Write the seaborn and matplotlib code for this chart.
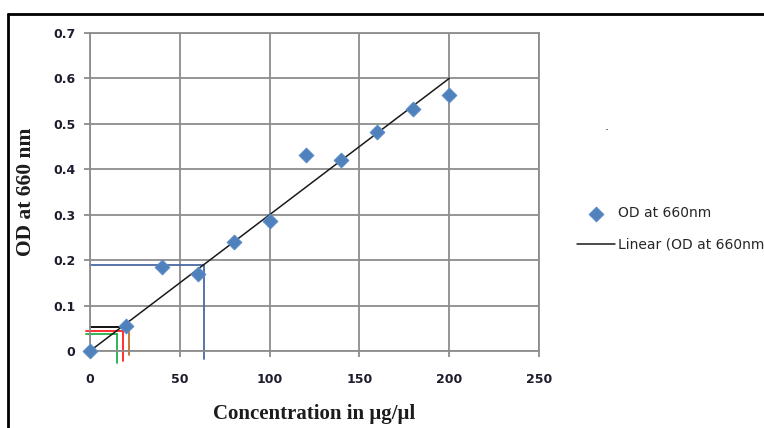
import matplotlib
matplotlib.use('Agg')
import matplotlib.pyplot as plt
import seaborn as sns
import numpy as np
from matplotlib.lines import Line2D

# data
conc = [0, 20, 40, 60, 80, 100, 120, 140, 160, 180, 200]
od = [0.0, 0.055, 0.185, 0.17, 0.24, 0.287, 0.432, 0.42, 0.483, 0.533, 0.563]

# linear trendline end points
trend_x = [0, 200]
trend_y = [0.0, 0.6]

# read-off guide lines (horizontal level -> vertical drop)
guide_start = [0, 0, -2, -2]
guide_x = [63.5, 21.5, 18.5, 15]
guide_y = [0.19, 0.053, 0.045, 0.037]
guide_bottom = [-0.018, -0.008, -0.022, -0.027]
guide_colors = ['#4a6aa5', '#000000', '#ff2020', '#22b04a']
guide_vcolors = ['#4a6aa5', '#c0702a', '#ff2020', '#22b04a']

x_ticks = [0, 50, 100, 150, 200, 250]
y_ticks = [0, 0.1, 0.2, 0.3, 0.4, 0.5, 0.6, 0.7]
y_ticklabels = ['0', '0.1', '0.2', '0.3', '0.4', '0.5', '0.6', '0.7']

# legend text as it appears in the picture (the trendline label is cut at the edge)
point_label = 'OD at 660nm'
trend_label = 'Linear (OD at 660nm'

sns.set_style('white')
plt.rcParams['font.family'] = ['DejaVu Sans']

fig = plt.figure(figsize=(7.64, 4.28), dpi=100)
ax = fig.add_axes([90 / 764, 1 - 351 / 428, 449 / 764, 318 / 428])

grid_c = '#8c8c8c'
ax.grid(True, color=grid_c, linewidth=1.3)
ax.set_axisbelow(True)
for s in ax.spines.values():
    s.set_color(grid_c)
    s.set_linewidth(1.3)

# trendline
sns.lineplot(x=trend_x, y=trend_y, ax=ax, color='#1a1a1a', linewidth=1.1,
             label=trend_label, zorder=3)

# guide lines
for x0, xe, yl, yb, c, vc in zip(guide_start, guide_x, guide_y, guide_bottom,
                                  guide_colors, guide_vcolors):
    ax.plot([x0, xe], [yl, yl], color=c, linewidth=1.3, clip_on=False, zorder=2)
    ax.plot([xe, xe], [yl, yb], color=vc, linewidth=1.3, clip_on=False, zorder=2)

# data points
sns.scatterplot(x=conc, y=od, ax=ax, marker='D', s=55, color='#4f81bd',
                edgecolor='#5b8bc6', linewidth=0.8, label=point_label,
                zorder=4, clip_on=False)

ax.set_xlim(0, 250)
ax.set_ylim(0, 0.7)
ax.set_xticks(x_ticks)
ax.set_yticks(y_ticks)
ax.set_yticklabels(y_ticklabels)
ax.tick_params(axis='both', which='both', length=4.5, width=1.3, color=grid_c,
               labelsize=9, labelcolor='#1c1c2c', direction='out',
               bottom=True, left=True)
ax.tick_params(axis='x', pad=11)
ax.tick_params(axis='y', pad=6)
for lab in ax.get_xticklabels() + ax.get_yticklabels():
    lab.set_fontweight('bold')

ax.set_xlabel('Concentration in μg/μl', family='Liberation Serif',
              fontweight='bold', fontsize=15, color='#1c1c1c', labelpad=13)
ax.set_ylabel('OD at 660 nm', family='Liberation Serif', fontweight='bold',
              fontsize=15.5, color='#1c1c1c', labelpad=12)

# legend: points first, then trendline
h, l = ax.get_legend_handles_labels()
order = [l.index(point_label), l.index(trend_label)]
leg = ax.legend([h[i] for i in order], [l[i] for i in order],
                loc='center left', bbox_to_anchor=(577 / 764, 1 - 229 / 428),
                bbox_transform=fig.transFigure, frameon=False, fontsize=10,
                handlelength=2.75, handletextpad=0.2, labelspacing=1.25,
                borderpad=0, borderaxespad=0)

fig.text(607 / 764, 1 - 126 / 428, '.', fontsize=9, ha='center', va='center')

# outer frame (top and left edges visible)
fig.add_artist(Line2D([8 / 764, 1.0], [1 - 14 / 428, 1 - 14 / 428],
                      transform=fig.transFigure, color='black', linewidth=2))
fig.add_artist(Line2D([8 / 764, 8 / 764], [0, 1 - 14 / 428],
                      transform=fig.transFigure, color='black', linewidth=2))

fig.savefig('out.png', dpi=100)
